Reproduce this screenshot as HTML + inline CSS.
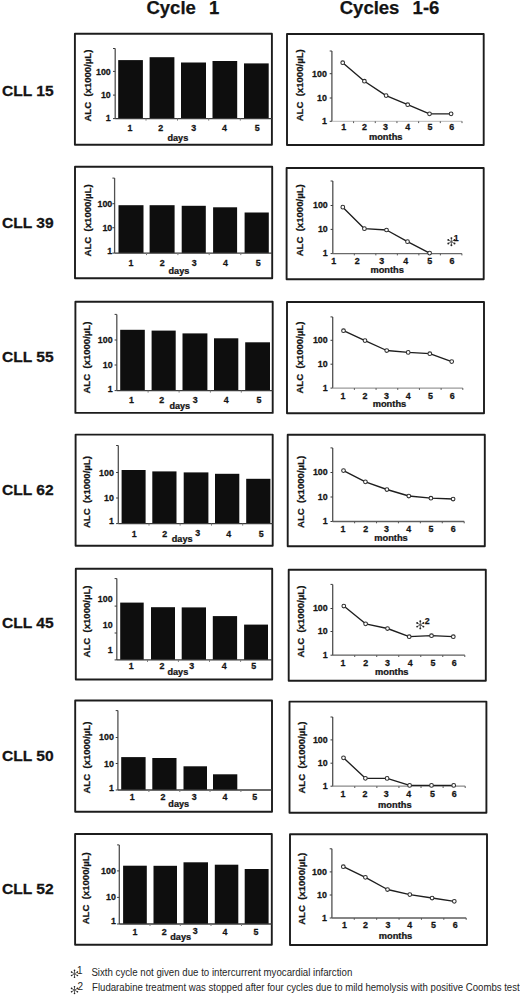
<!DOCTYPE html>
<html><head><meta charset="utf-8"><title>ALC cycles</title>
<style>
html,body{margin:0;padding:0;background:#fff;}
body{width:520px;height:995px;overflow:hidden;}
svg{display:block;font-family:"Liberation Sans", sans-serif;}
text{stroke:#141414;stroke-width:0.25px;}
text.fn{stroke:none;}
</style></head>
<body>
<svg width="520" height="995" viewBox="0 0 520 995">
<rect x="0" y="0" width="520" height="995" fill="#fff"/>
<text x="146.45" y="14.0" font-size="18.5" font-weight="bold" fill="#141414">Cycle</text>
<text x="208.9" y="14.0" font-size="18.5" font-weight="bold" fill="#141414">1</text>
<text x="339.75" y="14.0" font-size="18.5" font-weight="bold" fill="#141414">Cycles</text>
<text x="412.6" y="14.0" font-size="18.5" font-weight="bold" fill="#141414">1-6</text>
<text transform="translate(1.9,96.30) scale(1.054,1)" font-size="14.8" font-weight="bold" fill="#141414">CLL 15</text>
<text transform="translate(1.9,228.30) scale(1.054,1)" font-size="14.8" font-weight="bold" fill="#141414">CLL 39</text>
<text transform="translate(1.9,361.70) scale(1.054,1)" font-size="14.8" font-weight="bold" fill="#141414">CLL 55</text>
<text transform="translate(1.9,494.90) scale(1.054,1)" font-size="14.8" font-weight="bold" fill="#141414">CLL 62</text>
<text transform="translate(1.9,627.60) scale(1.054,1)" font-size="14.8" font-weight="bold" fill="#141414">CLL 45</text>
<text transform="translate(1.9,760.90) scale(1.054,1)" font-size="14.8" font-weight="bold" fill="#141414">CLL 50</text>
<text transform="translate(1.9,894.00) scale(1.054,1)" font-size="14.8" font-weight="bold" fill="#141414">CLL 52</text>
<rect x="74.90" y="33.70" width="197.00" height="111.10" fill="none" stroke="#1c1c1c" stroke-width="1.9" stroke-linejoin="round"/>
<rect x="118.20" y="60.10" width="24.70" height="58.50" fill="#0e0e0e"/>
<rect x="149.60" y="57.20" width="24.80" height="61.40" fill="#0e0e0e"/>
<rect x="181.00" y="62.50" width="25.00" height="56.10" fill="#0e0e0e"/>
<rect x="212.50" y="61.00" width="24.70" height="57.60" fill="#0e0e0e"/>
<rect x="244.00" y="63.40" width="24.70" height="55.20" fill="#0e0e0e"/>
<line x1="115.20" y1="48.50" x2="115.20" y2="118.60" stroke="#505050" stroke-width="1.3"/>
<line x1="113.00" y1="48.50" x2="115.20" y2="48.50" stroke="#3a3a3a" stroke-width="1"/>
<line x1="113.00" y1="71.40" x2="115.20" y2="71.40" stroke="#3a3a3a" stroke-width="1"/>
<line x1="113.00" y1="95.10" x2="115.20" y2="95.10" stroke="#3a3a3a" stroke-width="1"/>
<line x1="113.00" y1="118.60" x2="115.20" y2="118.60" stroke="#3a3a3a" stroke-width="1"/>
<line x1="115.20" y1="118.60" x2="271.90" y2="118.60" stroke="#3a3a3a" stroke-width="1.4"/>
<line x1="146.00" y1="118.60" x2="146.00" y2="120.60" stroke="#777" stroke-width="1"/>
<line x1="177.50" y1="118.60" x2="177.50" y2="120.60" stroke="#777" stroke-width="1"/>
<line x1="208.70" y1="118.60" x2="208.70" y2="120.60" stroke="#777" stroke-width="1"/>
<line x1="240.30" y1="118.60" x2="240.30" y2="120.60" stroke="#777" stroke-width="1"/>
<text transform="translate(110.80,74.71) scale(1.07,1)" font-size="8.3" text-anchor="end" font-weight="bold" fill="#141414" >100</text>
<text transform="translate(110.80,97.76) scale(1.07,1)" font-size="8.3" text-anchor="end" font-weight="bold" fill="#141414" >10</text>
<text transform="translate(110.80,121.16) scale(1.07,1)" font-size="8.3" text-anchor="end" font-weight="bold" fill="#141414" >1</text>
<text transform="translate(129.90,131.46) scale(1.07,1)" font-size="8.3" text-anchor="middle" font-weight="bold" fill="#141414" >1</text>
<text transform="translate(160.60,131.46) scale(1.07,1)" font-size="8.3" text-anchor="middle" font-weight="bold" fill="#141414" >2</text>
<text transform="translate(193.70,131.46) scale(1.07,1)" font-size="8.3" text-anchor="middle" font-weight="bold" fill="#141414" >3</text>
<text transform="translate(224.40,131.46) scale(1.07,1)" font-size="8.3" text-anchor="middle" font-weight="bold" fill="#141414" >4</text>
<text transform="translate(257.10,131.46) scale(1.07,1)" font-size="8.3" text-anchor="middle" font-weight="bold" fill="#141414" >5</text>
<text transform="translate(177.85,140.50) scale(1.083,1)" font-size="8.4" text-anchor="middle" font-weight="bold" fill="#141414" >days</text>
<text transform="translate(90.60,85.60) rotate(-90) scale(1.088,1)" x="0" y="0" font-size="8.8" text-anchor="middle" font-weight="bold" fill="#141414" xml:space="preserve">ALC  (x1000/µL)</text>
<rect x="75.00" y="166.80" width="197.20" height="111.50" fill="none" stroke="#1c1c1c" stroke-width="1.9" stroke-linejoin="round"/>
<rect x="118.50" y="205.20" width="25.00" height="47.90" fill="#0e0e0e"/>
<rect x="149.60" y="205.20" width="25.00" height="47.90" fill="#0e0e0e"/>
<rect x="181.70" y="205.80" width="24.10" height="47.30" fill="#0e0e0e"/>
<rect x="213.10" y="207.30" width="24.00" height="45.80" fill="#0e0e0e"/>
<rect x="244.60" y="212.50" width="24.20" height="40.60" fill="#0e0e0e"/>
<line x1="114.60" y1="178.10" x2="114.60" y2="253.10" stroke="#505050" stroke-width="1.3"/>
<line x1="112.40" y1="178.10" x2="114.60" y2="178.10" stroke="#3a3a3a" stroke-width="1"/>
<line x1="112.40" y1="203.70" x2="114.60" y2="203.70" stroke="#3a3a3a" stroke-width="1"/>
<line x1="112.40" y1="227.70" x2="114.60" y2="227.70" stroke="#3a3a3a" stroke-width="1"/>
<line x1="112.40" y1="253.10" x2="114.60" y2="253.10" stroke="#3a3a3a" stroke-width="1"/>
<line x1="114.60" y1="253.10" x2="272.20" y2="253.10" stroke="#3a3a3a" stroke-width="1.4"/>
<line x1="146.50" y1="253.10" x2="146.50" y2="255.10" stroke="#777" stroke-width="1"/>
<line x1="177.90" y1="253.10" x2="177.90" y2="255.10" stroke="#777" stroke-width="1"/>
<line x1="209.20" y1="253.10" x2="209.20" y2="255.10" stroke="#777" stroke-width="1"/>
<line x1="240.80" y1="253.10" x2="240.80" y2="255.10" stroke="#777" stroke-width="1"/>
<text transform="translate(112.30,206.51) scale(1.07,1)" font-size="8.3" text-anchor="end" font-weight="bold" fill="#141414" >100</text>
<text transform="translate(112.30,231.16) scale(1.07,1)" font-size="8.3" text-anchor="end" font-weight="bold" fill="#141414" >10</text>
<text transform="translate(112.30,254.46) scale(1.07,1)" font-size="8.3" text-anchor="end" font-weight="bold" fill="#141414" >1</text>
<text transform="translate(131.00,265.66) scale(1.07,1)" font-size="8.3" text-anchor="middle" font-weight="bold" fill="#141414" >1</text>
<text transform="translate(162.30,265.66) scale(1.07,1)" font-size="8.3" text-anchor="middle" font-weight="bold" fill="#141414" >2</text>
<text transform="translate(194.20,265.66) scale(1.07,1)" font-size="8.3" text-anchor="middle" font-weight="bold" fill="#141414" >3</text>
<text transform="translate(225.40,265.66) scale(1.07,1)" font-size="8.3" text-anchor="middle" font-weight="bold" fill="#141414" >4</text>
<text transform="translate(258.10,265.66) scale(1.07,1)" font-size="8.3" text-anchor="middle" font-weight="bold" fill="#141414" >5</text>
<text transform="translate(178.90,273.50) scale(1.083,1)" font-size="8.4" text-anchor="middle" font-weight="bold" fill="#141414" >days</text>
<text transform="translate(90.60,220.40) rotate(-90) scale(1.088,1)" x="0" y="0" font-size="8.8" text-anchor="middle" font-weight="bold" fill="#141414" xml:space="preserve">ALC  (x1000/µL)</text>
<rect x="75.40" y="301.70" width="197.30" height="111.20" fill="none" stroke="#1c1c1c" stroke-width="1.9" stroke-linejoin="round"/>
<rect x="120.20" y="329.80" width="24.60" height="60.80" fill="#0e0e0e"/>
<rect x="151.60" y="330.60" width="24.10" height="60.00" fill="#0e0e0e"/>
<rect x="182.50" y="333.40" width="24.90" height="57.20" fill="#0e0e0e"/>
<rect x="214.00" y="338.30" width="24.30" height="52.30" fill="#0e0e0e"/>
<rect x="245.20" y="342.30" width="24.80" height="48.30" fill="#0e0e0e"/>
<line x1="116.80" y1="314.40" x2="116.80" y2="390.60" stroke="#505050" stroke-width="1.3"/>
<line x1="114.60" y1="314.40" x2="116.80" y2="314.40" stroke="#3a3a3a" stroke-width="1"/>
<line x1="114.60" y1="340.00" x2="116.80" y2="340.00" stroke="#3a3a3a" stroke-width="1"/>
<line x1="114.60" y1="365.00" x2="116.80" y2="365.00" stroke="#3a3a3a" stroke-width="1"/>
<line x1="114.60" y1="390.60" x2="116.80" y2="390.60" stroke="#3a3a3a" stroke-width="1"/>
<line x1="116.80" y1="390.60" x2="272.70" y2="390.60" stroke="#3a3a3a" stroke-width="1.4"/>
<line x1="148.10" y1="390.60" x2="148.10" y2="392.60" stroke="#777" stroke-width="1"/>
<line x1="179.10" y1="390.60" x2="179.10" y2="392.60" stroke="#777" stroke-width="1"/>
<line x1="210.40" y1="390.60" x2="210.40" y2="392.60" stroke="#777" stroke-width="1"/>
<line x1="241.30" y1="390.60" x2="241.30" y2="392.60" stroke="#777" stroke-width="1"/>
<text transform="translate(112.60,343.31) scale(1.07,1)" font-size="8.3" text-anchor="end" font-weight="bold" fill="#141414" >100</text>
<text transform="translate(112.60,367.76) scale(1.07,1)" font-size="8.3" text-anchor="end" font-weight="bold" fill="#141414" >10</text>
<text transform="translate(112.60,392.16) scale(1.07,1)" font-size="8.3" text-anchor="end" font-weight="bold" fill="#141414" >1</text>
<text transform="translate(131.40,403.16) scale(1.07,1)" font-size="8.3" text-anchor="middle" font-weight="bold" fill="#141414" >1</text>
<text transform="translate(161.60,403.16) scale(1.07,1)" font-size="8.3" text-anchor="middle" font-weight="bold" fill="#141414" >2</text>
<text transform="translate(195.30,403.06) scale(1.07,1)" font-size="8.3" text-anchor="middle" font-weight="bold" fill="#141414" >3</text>
<text transform="translate(226.20,403.16) scale(1.07,1)" font-size="8.3" text-anchor="middle" font-weight="bold" fill="#141414" >4</text>
<text transform="translate(258.90,403.16) scale(1.07,1)" font-size="8.3" text-anchor="middle" font-weight="bold" fill="#141414" >5</text>
<text transform="translate(179.75,408.90) scale(1.083,1)" font-size="8.4" text-anchor="middle" font-weight="bold" fill="#141414" >days</text>
<text transform="translate(89.90,357.60) rotate(-90) scale(1.088,1)" x="0" y="0" font-size="8.8" text-anchor="middle" font-weight="bold" fill="#141414" xml:space="preserve">ALC  (x1000/µL)</text>
<rect x="75.60" y="434.60" width="197.10" height="111.10" fill="none" stroke="#1c1c1c" stroke-width="1.9" stroke-linejoin="round"/>
<rect x="121.60" y="470.00" width="24.00" height="53.60" fill="#0e0e0e"/>
<rect x="152.30" y="471.40" width="24.20" height="52.20" fill="#0e0e0e"/>
<rect x="183.70" y="472.40" width="24.70" height="51.20" fill="#0e0e0e"/>
<rect x="215.00" y="473.80" width="24.30" height="49.80" fill="#0e0e0e"/>
<rect x="246.20" y="478.80" width="24.20" height="44.80" fill="#0e0e0e"/>
<line x1="118.30" y1="445.50" x2="118.30" y2="523.60" stroke="#505050" stroke-width="1.3"/>
<line x1="116.10" y1="445.50" x2="118.30" y2="445.50" stroke="#3a3a3a" stroke-width="1"/>
<line x1="116.10" y1="472.50" x2="118.30" y2="472.50" stroke="#3a3a3a" stroke-width="1"/>
<line x1="116.10" y1="498.00" x2="118.30" y2="498.00" stroke="#3a3a3a" stroke-width="1"/>
<line x1="116.10" y1="523.60" x2="118.30" y2="523.60" stroke="#3a3a3a" stroke-width="1"/>
<line x1="118.30" y1="523.60" x2="272.70" y2="523.60" stroke="#3a3a3a" stroke-width="1.4"/>
<line x1="149.00" y1="523.60" x2="149.00" y2="525.60" stroke="#777" stroke-width="1"/>
<line x1="180.10" y1="523.60" x2="180.10" y2="525.60" stroke="#777" stroke-width="1"/>
<line x1="211.50" y1="523.60" x2="211.50" y2="525.60" stroke="#777" stroke-width="1"/>
<line x1="242.70" y1="523.60" x2="242.70" y2="525.60" stroke="#777" stroke-width="1"/>
<text transform="translate(113.90,476.01) scale(1.07,1)" font-size="8.3" text-anchor="end" font-weight="bold" fill="#141414" >100</text>
<text transform="translate(113.90,500.66) scale(1.07,1)" font-size="8.3" text-anchor="end" font-weight="bold" fill="#141414" >10</text>
<text transform="translate(113.90,523.86) scale(1.07,1)" font-size="8.3" text-anchor="end" font-weight="bold" fill="#141414" >1</text>
<text transform="translate(134.10,536.76) scale(1.07,1)" font-size="8.3" text-anchor="middle" font-weight="bold" fill="#141414" >1</text>
<text transform="translate(164.80,536.76) scale(1.07,1)" font-size="8.3" text-anchor="middle" font-weight="bold" fill="#141414" >2</text>
<text transform="translate(197.70,536.06) scale(1.07,1)" font-size="8.3" text-anchor="middle" font-weight="bold" fill="#141414" >3</text>
<text transform="translate(228.60,536.76) scale(1.07,1)" font-size="8.3" text-anchor="middle" font-weight="bold" fill="#141414" >4</text>
<text transform="translate(261.30,536.76) scale(1.07,1)" font-size="8.3" text-anchor="middle" font-weight="bold" fill="#141414" >5</text>
<text transform="translate(182.15,542.20) scale(1.083,1)" font-size="8.4" text-anchor="middle" font-weight="bold" fill="#141414" >days</text>
<text transform="translate(89.95,492.10) rotate(-90) scale(1.088,1)" x="0" y="0" font-size="8.8" text-anchor="middle" font-weight="bold" fill="#141414" xml:space="preserve">ALC  (x1000/µL)</text>
<rect x="75.80" y="568.70" width="196.40" height="110.80" fill="none" stroke="#1c1c1c" stroke-width="1.9" stroke-linejoin="round"/>
<rect x="120.20" y="602.60" width="23.50" height="57.30" fill="#0e0e0e"/>
<rect x="151.00" y="607.20" width="24.00" height="52.70" fill="#0e0e0e"/>
<rect x="181.70" y="607.40" width="24.30" height="52.50" fill="#0e0e0e"/>
<rect x="212.80" y="616.10" width="24.30" height="43.80" fill="#0e0e0e"/>
<rect x="244.10" y="624.60" width="23.90" height="35.30" fill="#0e0e0e"/>
<line x1="116.80" y1="578.60" x2="116.80" y2="659.90" stroke="#505050" stroke-width="1.3"/>
<line x1="114.60" y1="578.60" x2="116.80" y2="578.60" stroke="#3a3a3a" stroke-width="1"/>
<line x1="114.60" y1="606.10" x2="116.80" y2="606.10" stroke="#3a3a3a" stroke-width="1"/>
<line x1="114.60" y1="633.00" x2="116.80" y2="633.00" stroke="#3a3a3a" stroke-width="1"/>
<line x1="114.60" y1="659.90" x2="116.80" y2="659.90" stroke="#3a3a3a" stroke-width="1"/>
<line x1="116.80" y1="659.90" x2="272.20" y2="659.90" stroke="#3a3a3a" stroke-width="1.4"/>
<line x1="147.50" y1="659.90" x2="147.50" y2="661.90" stroke="#777" stroke-width="1"/>
<line x1="178.40" y1="659.90" x2="178.40" y2="661.90" stroke="#777" stroke-width="1"/>
<line x1="209.50" y1="659.90" x2="209.50" y2="661.90" stroke="#777" stroke-width="1"/>
<line x1="240.60" y1="659.90" x2="240.60" y2="661.90" stroke="#777" stroke-width="1"/>
<text transform="translate(112.60,601.96) scale(1.07,1)" font-size="8.3" text-anchor="end" font-weight="bold" fill="#141414" >100</text>
<text transform="translate(112.60,628.36) scale(1.07,1)" font-size="8.3" text-anchor="end" font-weight="bold" fill="#141414" >10</text>
<text transform="translate(112.60,652.56) scale(1.07,1)" font-size="8.3" text-anchor="end" font-weight="bold" fill="#141414" >1</text>
<text transform="translate(131.20,669.16) scale(1.07,1)" font-size="8.3" text-anchor="middle" font-weight="bold" fill="#141414" >1</text>
<text transform="translate(162.00,669.16) scale(1.07,1)" font-size="8.3" text-anchor="middle" font-weight="bold" fill="#141414" >2</text>
<text transform="translate(191.80,669.26) scale(1.07,1)" font-size="8.3" text-anchor="middle" font-weight="bold" fill="#141414" >3</text>
<text transform="translate(224.10,669.16) scale(1.07,1)" font-size="8.3" text-anchor="middle" font-weight="bold" fill="#141414" >4</text>
<text transform="translate(253.80,669.16) scale(1.07,1)" font-size="8.3" text-anchor="middle" font-weight="bold" fill="#141414" >5</text>
<text transform="translate(177.85,674.90) scale(1.083,1)" font-size="8.4" text-anchor="middle" font-weight="bold" fill="#141414" >days</text>
<text transform="translate(89.90,621.50) rotate(-90) scale(1.088,1)" x="0" y="0" font-size="8.8" text-anchor="middle" font-weight="bold" fill="#141414" xml:space="preserve">ALC  (x1000/µL)</text>
<rect x="75.20" y="700.50" width="196.80" height="111.20" fill="none" stroke="#1c1c1c" stroke-width="1.9" stroke-linejoin="round"/>
<rect x="121.20" y="757.10" width="24.40" height="32.90" fill="#0e0e0e"/>
<rect x="152.30" y="758.00" width="24.20" height="32.00" fill="#0e0e0e"/>
<rect x="183.50" y="766.30" width="23.50" height="23.70" fill="#0e0e0e"/>
<rect x="213.00" y="774.30" width="24.30" height="15.70" fill="#0e0e0e"/>
<line x1="117.90" y1="710.60" x2="117.90" y2="790.00" stroke="#505050" stroke-width="1.3"/>
<line x1="115.70" y1="710.60" x2="117.90" y2="710.60" stroke="#3a3a3a" stroke-width="1"/>
<line x1="115.70" y1="737.50" x2="117.90" y2="737.50" stroke="#3a3a3a" stroke-width="1"/>
<line x1="115.70" y1="763.50" x2="117.90" y2="763.50" stroke="#3a3a3a" stroke-width="1"/>
<line x1="115.70" y1="790.00" x2="117.90" y2="790.00" stroke="#3a3a3a" stroke-width="1"/>
<line x1="117.90" y1="790.00" x2="272.00" y2="790.00" stroke="#3a3a3a" stroke-width="1.4"/>
<line x1="148.90" y1="790.00" x2="148.90" y2="792.00" stroke="#777" stroke-width="1"/>
<line x1="179.80" y1="790.00" x2="179.80" y2="792.00" stroke="#777" stroke-width="1"/>
<line x1="210.00" y1="790.00" x2="210.00" y2="792.00" stroke="#777" stroke-width="1"/>
<line x1="240.90" y1="790.00" x2="240.90" y2="792.00" stroke="#777" stroke-width="1"/>
<text transform="translate(113.90,740.36) scale(1.07,1)" font-size="8.3" text-anchor="end" font-weight="bold" fill="#141414" >100</text>
<text transform="translate(113.90,766.86) scale(1.07,1)" font-size="8.3" text-anchor="end" font-weight="bold" fill="#141414" >10</text>
<text transform="translate(113.90,791.26) scale(1.07,1)" font-size="8.3" text-anchor="end" font-weight="bold" fill="#141414" >1</text>
<text transform="translate(132.20,800.16) scale(1.07,1)" font-size="8.3" text-anchor="middle" font-weight="bold" fill="#141414" >1</text>
<text transform="translate(162.90,800.16) scale(1.07,1)" font-size="8.3" text-anchor="middle" font-weight="bold" fill="#141414" >2</text>
<text transform="translate(194.20,800.46) scale(1.07,1)" font-size="8.3" text-anchor="middle" font-weight="bold" fill="#141414" >3</text>
<text transform="translate(225.00,800.16) scale(1.07,1)" font-size="8.3" text-anchor="middle" font-weight="bold" fill="#141414" >4</text>
<text transform="translate(254.80,800.16) scale(1.07,1)" font-size="8.3" text-anchor="middle" font-weight="bold" fill="#141414" >5</text>
<text transform="translate(178.70,807.20) scale(1.083,1)" font-size="8.4" text-anchor="middle" font-weight="bold" fill="#141414" >days</text>
<text transform="translate(89.90,757.60) rotate(-90) scale(1.088,1)" x="0" y="0" font-size="8.8" text-anchor="middle" font-weight="bold" fill="#141414" xml:space="preserve">ALC  (x1000/µL)</text>
<rect x="75.10" y="834.00" width="196.70" height="110.70" fill="none" stroke="#1c1c1c" stroke-width="1.9" stroke-linejoin="round"/>
<rect x="123.10" y="865.70" width="23.70" height="58.30" fill="#0e0e0e"/>
<rect x="153.50" y="865.80" width="23.50" height="58.20" fill="#0e0e0e"/>
<rect x="183.50" y="862.30" width="24.50" height="61.70" fill="#0e0e0e"/>
<rect x="214.80" y="864.70" width="23.50" height="59.30" fill="#0e0e0e"/>
<rect x="244.70" y="869.00" width="23.90" height="55.00" fill="#0e0e0e"/>
<line x1="119.30" y1="844.90" x2="119.30" y2="924.00" stroke="#505050" stroke-width="1.3"/>
<line x1="117.10" y1="844.90" x2="119.30" y2="844.90" stroke="#3a3a3a" stroke-width="1"/>
<line x1="117.10" y1="870.90" x2="119.30" y2="870.90" stroke="#3a3a3a" stroke-width="1"/>
<line x1="117.10" y1="897.40" x2="119.30" y2="897.40" stroke="#3a3a3a" stroke-width="1"/>
<line x1="117.10" y1="924.00" x2="119.30" y2="924.00" stroke="#3a3a3a" stroke-width="1"/>
<line x1="119.30" y1="924.00" x2="271.80" y2="924.00" stroke="#3a3a3a" stroke-width="1.4"/>
<line x1="150.00" y1="924.00" x2="150.00" y2="926.00" stroke="#777" stroke-width="1"/>
<line x1="180.30" y1="924.00" x2="180.30" y2="926.00" stroke="#777" stroke-width="1"/>
<line x1="211.00" y1="924.00" x2="211.00" y2="926.00" stroke="#777" stroke-width="1"/>
<line x1="241.50" y1="924.00" x2="241.50" y2="926.00" stroke="#777" stroke-width="1"/>
<text transform="translate(115.90,873.56) scale(1.07,1)" font-size="8.3" text-anchor="end" font-weight="bold" fill="#141414" >100</text>
<text transform="translate(115.90,900.16) scale(1.07,1)" font-size="8.3" text-anchor="end" font-weight="bold" fill="#141414" >10</text>
<text transform="translate(115.90,924.26) scale(1.07,1)" font-size="8.3" text-anchor="end" font-weight="bold" fill="#141414" >1</text>
<text transform="translate(135.00,934.56) scale(1.07,1)" font-size="8.3" text-anchor="middle" font-weight="bold" fill="#141414" >1</text>
<text transform="translate(164.10,934.56) scale(1.07,1)" font-size="8.3" text-anchor="middle" font-weight="bold" fill="#141414" >2</text>
<text transform="translate(195.30,934.46) scale(1.07,1)" font-size="8.3" text-anchor="middle" font-weight="bold" fill="#141414" >3</text>
<text transform="translate(225.00,934.56) scale(1.07,1)" font-size="8.3" text-anchor="middle" font-weight="bold" fill="#141414" >4</text>
<text transform="translate(255.90,934.56) scale(1.07,1)" font-size="8.3" text-anchor="middle" font-weight="bold" fill="#141414" >5</text>
<text transform="translate(180.65,940.20) scale(1.083,1)" font-size="8.4" text-anchor="middle" font-weight="bold" fill="#141414" >days</text>
<text transform="translate(88.85,888.30) rotate(-90) scale(1.088,1)" x="0" y="0" font-size="8.8" text-anchor="middle" font-weight="bold" fill="#141414" xml:space="preserve">ALC  (x1000/µL)</text>
<rect x="287.00" y="34.00" width="196.70" height="111.00" fill="none" stroke="#1c1c1c" stroke-width="1.9" stroke-linejoin="round"/>
<line x1="331.90" y1="51.00" x2="331.90" y2="121.30" stroke="#505050" stroke-width="1.3"/>
<line x1="329.70" y1="51.00" x2="331.90" y2="51.00" stroke="#3a3a3a" stroke-width="1"/>
<line x1="329.70" y1="73.70" x2="331.90" y2="73.70" stroke="#3a3a3a" stroke-width="1"/>
<line x1="329.70" y1="98.00" x2="331.90" y2="98.00" stroke="#3a3a3a" stroke-width="1"/>
<line x1="329.70" y1="121.30" x2="331.90" y2="121.30" stroke="#3a3a3a" stroke-width="1"/>
<line x1="331.90" y1="121.30" x2="462.00" y2="121.30" stroke="#b0b0b0" stroke-width="0.9"/>
<line x1="353.58" y1="121.30" x2="353.58" y2="123.10" stroke="#555" stroke-width="1"/>
<line x1="375.27" y1="121.30" x2="375.27" y2="123.10" stroke="#555" stroke-width="1"/>
<line x1="396.95" y1="121.30" x2="396.95" y2="123.10" stroke="#555" stroke-width="1"/>
<line x1="418.63" y1="121.30" x2="418.63" y2="123.10" stroke="#555" stroke-width="1"/>
<line x1="440.32" y1="121.30" x2="440.32" y2="123.10" stroke="#555" stroke-width="1"/>
<line x1="462.00" y1="121.30" x2="462.00" y2="123.10" stroke="#555" stroke-width="1"/>
<text transform="translate(326.90,76.56) scale(1.07,1)" font-size="8.3" text-anchor="end" font-weight="bold" fill="#141414" >100</text>
<text transform="translate(326.90,100.86) scale(1.07,1)" font-size="8.3" text-anchor="end" font-weight="bold" fill="#141414" >10</text>
<text transform="translate(326.90,124.16) scale(1.07,1)" font-size="8.3" text-anchor="end" font-weight="bold" fill="#141414" >1</text>
<polyline points="342.70,62.70 364.40,81.20 386.10,95.60 407.70,104.70 429.50,113.80 451.10,113.80" fill="none" stroke="#1e1e1e" stroke-width="1.35" stroke-linejoin="round"/>
<circle cx="342.70" cy="62.70" r="1.85" fill="#fff" stroke="#2e2e2e" stroke-width="1.05"/>
<circle cx="364.40" cy="81.20" r="1.85" fill="#fff" stroke="#2e2e2e" stroke-width="1.05"/>
<circle cx="386.10" cy="95.60" r="1.85" fill="#fff" stroke="#2e2e2e" stroke-width="1.05"/>
<circle cx="407.70" cy="104.70" r="1.85" fill="#fff" stroke="#2e2e2e" stroke-width="1.05"/>
<circle cx="429.50" cy="113.80" r="1.85" fill="#fff" stroke="#2e2e2e" stroke-width="1.05"/>
<circle cx="451.10" cy="113.80" r="1.85" fill="#fff" stroke="#2e2e2e" stroke-width="1.05"/>
<text transform="translate(343.80,130.26) scale(1.07,1)" font-size="8.3" text-anchor="middle" font-weight="bold" fill="#141414" >1</text>
<text transform="translate(364.50,130.26) scale(1.07,1)" font-size="8.3" text-anchor="middle" font-weight="bold" fill="#141414" >2</text>
<text transform="translate(385.50,130.26) scale(1.07,1)" font-size="8.3" text-anchor="middle" font-weight="bold" fill="#141414" >3</text>
<text transform="translate(407.70,130.26) scale(1.07,1)" font-size="8.3" text-anchor="middle" font-weight="bold" fill="#141414" >4</text>
<text transform="translate(430.00,130.26) scale(1.07,1)" font-size="8.3" text-anchor="middle" font-weight="bold" fill="#141414" >5</text>
<text transform="translate(451.70,130.26) scale(1.07,1)" font-size="8.3" text-anchor="middle" font-weight="bold" fill="#141414" >6</text>
<text transform="translate(385.70,140.20) scale(1.094,1)" font-size="8.5" text-anchor="middle" font-weight="bold" fill="#141414" >months</text>
<text transform="translate(302.90,85.30) rotate(-90) scale(1.088,1)" x="0" y="0" font-size="8.8" text-anchor="middle" font-weight="bold" fill="#141414" xml:space="preserve">ALC  (x1000/µL)</text>
<rect x="286.60" y="168.00" width="197.10" height="111.30" fill="none" stroke="#1c1c1c" stroke-width="1.9" stroke-linejoin="round"/>
<line x1="332.80" y1="181.00" x2="332.80" y2="253.60" stroke="#505050" stroke-width="1.3"/>
<line x1="330.60" y1="181.00" x2="332.80" y2="181.00" stroke="#3a3a3a" stroke-width="1"/>
<line x1="330.60" y1="205.50" x2="332.80" y2="205.50" stroke="#3a3a3a" stroke-width="1"/>
<line x1="330.60" y1="229.40" x2="332.80" y2="229.40" stroke="#3a3a3a" stroke-width="1"/>
<line x1="330.60" y1="253.60" x2="332.80" y2="253.60" stroke="#3a3a3a" stroke-width="1"/>
<line x1="332.80" y1="253.60" x2="461.90" y2="253.60" stroke="#6a6a6a" stroke-width="1.3"/>
<line x1="354.32" y1="253.60" x2="354.32" y2="255.40" stroke="#555" stroke-width="1"/>
<line x1="375.83" y1="253.60" x2="375.83" y2="255.40" stroke="#555" stroke-width="1"/>
<line x1="397.35" y1="253.60" x2="397.35" y2="255.40" stroke="#555" stroke-width="1"/>
<line x1="418.87" y1="253.60" x2="418.87" y2="255.40" stroke="#555" stroke-width="1"/>
<line x1="440.38" y1="253.60" x2="440.38" y2="255.40" stroke="#555" stroke-width="1"/>
<line x1="461.90" y1="253.60" x2="461.90" y2="255.40" stroke="#555" stroke-width="1"/>
<text transform="translate(327.80,208.36) scale(1.07,1)" font-size="8.3" text-anchor="end" font-weight="bold" fill="#141414" >100</text>
<text transform="translate(327.80,232.26) scale(1.07,1)" font-size="8.3" text-anchor="end" font-weight="bold" fill="#141414" >10</text>
<text transform="translate(327.80,256.46) scale(1.07,1)" font-size="8.3" text-anchor="end" font-weight="bold" fill="#141414" >1</text>
<polyline points="342.80,207.20 364.40,228.70 386.50,230.00 407.50,241.70 429.60,253.10" fill="none" stroke="#1e1e1e" stroke-width="1.35" stroke-linejoin="round"/>
<circle cx="342.80" cy="207.20" r="1.85" fill="#fff" stroke="#2e2e2e" stroke-width="1.05"/>
<circle cx="364.40" cy="228.70" r="1.85" fill="#fff" stroke="#2e2e2e" stroke-width="1.05"/>
<circle cx="386.50" cy="230.00" r="1.85" fill="#fff" stroke="#2e2e2e" stroke-width="1.05"/>
<circle cx="407.50" cy="241.70" r="1.85" fill="#fff" stroke="#2e2e2e" stroke-width="1.05"/>
<circle cx="429.60" cy="253.10" r="1.85" fill="#fff" stroke="#2e2e2e" stroke-width="1.05"/>
<text transform="translate(333.60,263.86) scale(1.07,1)" font-size="8.3" text-anchor="middle" font-weight="bold" fill="#141414" >1</text>
<text transform="translate(357.30,263.86) scale(1.07,1)" font-size="8.3" text-anchor="middle" font-weight="bold" fill="#141414" >2</text>
<text transform="translate(381.60,263.86) scale(1.07,1)" font-size="8.3" text-anchor="middle" font-weight="bold" fill="#141414" >3</text>
<text transform="translate(405.60,263.86) scale(1.07,1)" font-size="8.3" text-anchor="middle" font-weight="bold" fill="#141414" >4</text>
<text transform="translate(429.60,263.86) scale(1.07,1)" font-size="8.3" text-anchor="middle" font-weight="bold" fill="#141414" >5</text>
<text transform="translate(452.00,263.86) scale(1.07,1)" font-size="8.3" text-anchor="middle" font-weight="bold" fill="#141414" >6</text>
<text transform="translate(387.15,273.20) scale(1.094,1)" font-size="8.5" text-anchor="middle" font-weight="bold" fill="#141414" >months</text>
<text transform="translate(303.40,220.30) rotate(-90) scale(1.088,1)" x="0" y="0" font-size="8.8" text-anchor="middle" font-weight="bold" fill="#141414" xml:space="preserve">ALC  (x1000/µL)</text>
<line x1="451.40" y1="241.70" x2="451.40" y2="238.10" stroke="#5a5a5a" stroke-width="0.9" stroke-linecap="round"/><circle cx="451.40" cy="238.10" r="0.95" fill="#262626"/><line x1="451.40" y1="241.70" x2="448.28" y2="239.90" stroke="#5a5a5a" stroke-width="0.9" stroke-linecap="round"/><circle cx="448.28" cy="239.90" r="0.95" fill="#262626"/><line x1="451.40" y1="241.70" x2="448.28" y2="243.50" stroke="#5a5a5a" stroke-width="0.9" stroke-linecap="round"/><circle cx="448.28" cy="243.50" r="0.95" fill="#262626"/><line x1="451.40" y1="241.70" x2="451.40" y2="245.30" stroke="#5a5a5a" stroke-width="0.9" stroke-linecap="round"/><circle cx="451.40" cy="245.30" r="0.95" fill="#262626"/><line x1="451.40" y1="241.70" x2="454.52" y2="243.50" stroke="#5a5a5a" stroke-width="0.9" stroke-linecap="round"/><circle cx="454.52" cy="243.50" r="0.95" fill="#262626"/><line x1="451.40" y1="241.70" x2="454.52" y2="239.90" stroke="#5a5a5a" stroke-width="0.9" stroke-linecap="round"/><circle cx="454.52" cy="239.90" r="0.95" fill="#262626"/>
<text x="456.20" y="241.30" font-size="8.8" text-anchor="middle" font-weight="bold" fill="#141414" >1</text>
<rect x="287.00" y="302.00" width="197.00" height="111.30" fill="none" stroke="#1c1c1c" stroke-width="1.9" stroke-linejoin="round"/>
<line x1="332.70" y1="316.90" x2="332.70" y2="388.10" stroke="#505050" stroke-width="1.3"/>
<line x1="330.50" y1="316.90" x2="332.70" y2="316.90" stroke="#3a3a3a" stroke-width="1"/>
<line x1="330.50" y1="340.30" x2="332.70" y2="340.30" stroke="#3a3a3a" stroke-width="1"/>
<line x1="330.50" y1="364.20" x2="332.70" y2="364.20" stroke="#3a3a3a" stroke-width="1"/>
<line x1="330.50" y1="388.10" x2="332.70" y2="388.10" stroke="#3a3a3a" stroke-width="1"/>
<line x1="332.70" y1="388.10" x2="462.80" y2="388.10" stroke="#9a9a9a" stroke-width="1.1"/>
<line x1="354.38" y1="388.10" x2="354.38" y2="389.90" stroke="#555" stroke-width="1"/>
<line x1="376.07" y1="388.10" x2="376.07" y2="389.90" stroke="#555" stroke-width="1"/>
<line x1="397.75" y1="388.10" x2="397.75" y2="389.90" stroke="#555" stroke-width="1"/>
<line x1="419.43" y1="388.10" x2="419.43" y2="389.90" stroke="#555" stroke-width="1"/>
<line x1="441.12" y1="388.10" x2="441.12" y2="389.90" stroke="#555" stroke-width="1"/>
<line x1="462.80" y1="388.10" x2="462.80" y2="389.90" stroke="#555" stroke-width="1"/>
<text transform="translate(327.70,343.16) scale(1.07,1)" font-size="8.3" text-anchor="end" font-weight="bold" fill="#141414" >100</text>
<text transform="translate(327.70,367.06) scale(1.07,1)" font-size="8.3" text-anchor="end" font-weight="bold" fill="#141414" >10</text>
<text transform="translate(327.70,390.96) scale(1.07,1)" font-size="8.3" text-anchor="end" font-weight="bold" fill="#141414" >1</text>
<polyline points="343.50,330.70 365.00,340.60 386.70,350.50 408.20,352.40 429.80,353.70 451.70,361.60" fill="none" stroke="#1e1e1e" stroke-width="1.35" stroke-linejoin="round"/>
<circle cx="343.50" cy="330.70" r="1.85" fill="#fff" stroke="#2e2e2e" stroke-width="1.05"/>
<circle cx="365.00" cy="340.60" r="1.85" fill="#fff" stroke="#2e2e2e" stroke-width="1.05"/>
<circle cx="386.70" cy="350.50" r="1.85" fill="#fff" stroke="#2e2e2e" stroke-width="1.05"/>
<circle cx="408.20" cy="352.40" r="1.85" fill="#fff" stroke="#2e2e2e" stroke-width="1.05"/>
<circle cx="429.80" cy="353.70" r="1.85" fill="#fff" stroke="#2e2e2e" stroke-width="1.05"/>
<circle cx="451.70" cy="361.60" r="1.85" fill="#fff" stroke="#2e2e2e" stroke-width="1.05"/>
<text transform="translate(342.90,398.76) scale(1.07,1)" font-size="8.3" text-anchor="middle" font-weight="bold" fill="#141414" >1</text>
<text transform="translate(365.00,398.76) scale(1.07,1)" font-size="8.3" text-anchor="middle" font-weight="bold" fill="#141414" >2</text>
<text transform="translate(386.40,398.76) scale(1.07,1)" font-size="8.3" text-anchor="middle" font-weight="bold" fill="#141414" >3</text>
<text transform="translate(408.20,398.76) scale(1.07,1)" font-size="8.3" text-anchor="middle" font-weight="bold" fill="#141414" >4</text>
<text transform="translate(430.50,398.76) scale(1.07,1)" font-size="8.3" text-anchor="middle" font-weight="bold" fill="#141414" >5</text>
<text transform="translate(452.30,398.76) scale(1.07,1)" font-size="8.3" text-anchor="middle" font-weight="bold" fill="#141414" >6</text>
<text transform="translate(389.45,407.40) scale(1.094,1)" font-size="8.5" text-anchor="middle" font-weight="bold" fill="#141414" >months</text>
<text transform="translate(302.80,357.60) rotate(-90) scale(1.088,1)" x="0" y="0" font-size="8.8" text-anchor="middle" font-weight="bold" fill="#141414" xml:space="preserve">ALC  (x1000/µL)</text>
<rect x="287.70" y="434.70" width="197.10" height="111.50" fill="none" stroke="#1c1c1c" stroke-width="1.9" stroke-linejoin="round"/>
<line x1="332.70" y1="447.90" x2="332.70" y2="521.50" stroke="#505050" stroke-width="1.3"/>
<line x1="330.50" y1="447.90" x2="332.70" y2="447.90" stroke="#3a3a3a" stroke-width="1"/>
<line x1="330.50" y1="472.50" x2="332.70" y2="472.50" stroke="#3a3a3a" stroke-width="1"/>
<line x1="330.50" y1="497.00" x2="332.70" y2="497.00" stroke="#3a3a3a" stroke-width="1"/>
<line x1="330.50" y1="521.50" x2="332.70" y2="521.50" stroke="#3a3a3a" stroke-width="1"/>
<line x1="332.70" y1="521.50" x2="464.20" y2="521.50" stroke="#5e5e5e" stroke-width="1.3"/>
<line x1="354.62" y1="521.50" x2="354.62" y2="523.30" stroke="#555" stroke-width="1"/>
<line x1="376.53" y1="521.50" x2="376.53" y2="523.30" stroke="#555" stroke-width="1"/>
<line x1="398.45" y1="521.50" x2="398.45" y2="523.30" stroke="#555" stroke-width="1"/>
<line x1="420.37" y1="521.50" x2="420.37" y2="523.30" stroke="#555" stroke-width="1"/>
<line x1="442.28" y1="521.50" x2="442.28" y2="523.30" stroke="#555" stroke-width="1"/>
<line x1="464.20" y1="521.50" x2="464.20" y2="523.30" stroke="#555" stroke-width="1"/>
<text transform="translate(327.70,475.36) scale(1.07,1)" font-size="8.3" text-anchor="end" font-weight="bold" fill="#141414" >100</text>
<text transform="translate(327.70,499.86) scale(1.07,1)" font-size="8.3" text-anchor="end" font-weight="bold" fill="#141414" >10</text>
<text transform="translate(327.70,524.36) scale(1.07,1)" font-size="8.3" text-anchor="end" font-weight="bold" fill="#141414" >1</text>
<polyline points="343.50,470.60 365.40,481.80 386.90,489.50 408.80,496.00 430.90,498.20 453.10,499.00" fill="none" stroke="#1e1e1e" stroke-width="1.35" stroke-linejoin="round"/>
<circle cx="343.50" cy="470.60" r="1.85" fill="#fff" stroke="#2e2e2e" stroke-width="1.05"/>
<circle cx="365.40" cy="481.80" r="1.85" fill="#fff" stroke="#2e2e2e" stroke-width="1.05"/>
<circle cx="386.90" cy="489.50" r="1.85" fill="#fff" stroke="#2e2e2e" stroke-width="1.05"/>
<circle cx="408.80" cy="496.00" r="1.85" fill="#fff" stroke="#2e2e2e" stroke-width="1.05"/>
<circle cx="430.90" cy="498.20" r="1.85" fill="#fff" stroke="#2e2e2e" stroke-width="1.05"/>
<circle cx="453.10" cy="499.00" r="1.85" fill="#fff" stroke="#2e2e2e" stroke-width="1.05"/>
<text transform="translate(342.90,532.16) scale(1.07,1)" font-size="8.3" text-anchor="middle" font-weight="bold" fill="#141414" >1</text>
<text transform="translate(365.60,532.16) scale(1.07,1)" font-size="8.3" text-anchor="middle" font-weight="bold" fill="#141414" >2</text>
<text transform="translate(386.40,532.16) scale(1.07,1)" font-size="8.3" text-anchor="middle" font-weight="bold" fill="#141414" >3</text>
<text transform="translate(408.80,532.16) scale(1.07,1)" font-size="8.3" text-anchor="middle" font-weight="bold" fill="#141414" >4</text>
<text transform="translate(431.00,532.16) scale(1.07,1)" font-size="8.3" text-anchor="middle" font-weight="bold" fill="#141414" >5</text>
<text transform="translate(453.10,532.16) scale(1.07,1)" font-size="8.3" text-anchor="middle" font-weight="bold" fill="#141414" >6</text>
<text transform="translate(391.00,540.90) scale(1.094,1)" font-size="8.5" text-anchor="middle" font-weight="bold" fill="#141414" >months</text>
<text transform="translate(303.60,491.90) rotate(-90) scale(1.088,1)" x="0" y="0" font-size="8.8" text-anchor="middle" font-weight="bold" fill="#141414" xml:space="preserve">ALC  (x1000/µL)</text>
<rect x="288.70" y="569.70" width="197.10" height="111.00" fill="none" stroke="#1c1c1c" stroke-width="1.9" stroke-linejoin="round"/>
<line x1="332.70" y1="584.40" x2="332.70" y2="655.20" stroke="#505050" stroke-width="1.3"/>
<line x1="330.50" y1="584.40" x2="332.70" y2="584.40" stroke="#3a3a3a" stroke-width="1"/>
<line x1="330.50" y1="608.50" x2="332.70" y2="608.50" stroke="#3a3a3a" stroke-width="1"/>
<line x1="330.50" y1="631.50" x2="332.70" y2="631.50" stroke="#3a3a3a" stroke-width="1"/>
<line x1="330.50" y1="655.20" x2="332.70" y2="655.20" stroke="#3a3a3a" stroke-width="1"/>
<line x1="332.70" y1="655.20" x2="464.80" y2="655.20" stroke="#5e5e5e" stroke-width="1.3"/>
<line x1="354.72" y1="655.20" x2="354.72" y2="657.00" stroke="#555" stroke-width="1"/>
<line x1="376.73" y1="655.20" x2="376.73" y2="657.00" stroke="#555" stroke-width="1"/>
<line x1="398.75" y1="655.20" x2="398.75" y2="657.00" stroke="#555" stroke-width="1"/>
<line x1="420.77" y1="655.20" x2="420.77" y2="657.00" stroke="#555" stroke-width="1"/>
<line x1="442.78" y1="655.20" x2="442.78" y2="657.00" stroke="#555" stroke-width="1"/>
<line x1="464.80" y1="655.20" x2="464.80" y2="657.00" stroke="#555" stroke-width="1"/>
<text transform="translate(327.70,611.36) scale(1.07,1)" font-size="8.3" text-anchor="end" font-weight="bold" fill="#141414" >100</text>
<text transform="translate(327.70,634.36) scale(1.07,1)" font-size="8.3" text-anchor="end" font-weight="bold" fill="#141414" >10</text>
<text transform="translate(327.70,658.06) scale(1.07,1)" font-size="8.3" text-anchor="end" font-weight="bold" fill="#141414" >1</text>
<polyline points="343.80,606.00 365.60,623.80 387.50,628.50 409.20,636.70 431.50,635.70 453.30,636.70" fill="none" stroke="#1e1e1e" stroke-width="1.35" stroke-linejoin="round"/>
<circle cx="343.80" cy="606.00" r="1.85" fill="#fff" stroke="#2e2e2e" stroke-width="1.05"/>
<circle cx="365.60" cy="623.80" r="1.85" fill="#fff" stroke="#2e2e2e" stroke-width="1.05"/>
<circle cx="387.50" cy="628.50" r="1.85" fill="#fff" stroke="#2e2e2e" stroke-width="1.05"/>
<circle cx="409.20" cy="636.70" r="1.85" fill="#fff" stroke="#2e2e2e" stroke-width="1.05"/>
<circle cx="431.50" cy="635.70" r="1.85" fill="#fff" stroke="#2e2e2e" stroke-width="1.05"/>
<circle cx="453.30" cy="636.70" r="1.85" fill="#fff" stroke="#2e2e2e" stroke-width="1.05"/>
<text transform="translate(342.90,665.56) scale(1.07,1)" font-size="8.3" text-anchor="middle" font-weight="bold" fill="#141414" >1</text>
<text transform="translate(365.60,665.56) scale(1.07,1)" font-size="8.3" text-anchor="middle" font-weight="bold" fill="#141414" >2</text>
<text transform="translate(387.50,665.56) scale(1.07,1)" font-size="8.3" text-anchor="middle" font-weight="bold" fill="#141414" >3</text>
<text transform="translate(410.30,665.56) scale(1.07,1)" font-size="8.3" text-anchor="middle" font-weight="bold" fill="#141414" >4</text>
<text transform="translate(432.90,665.56) scale(1.07,1)" font-size="8.3" text-anchor="middle" font-weight="bold" fill="#141414" >5</text>
<text transform="translate(454.10,665.56) scale(1.07,1)" font-size="8.3" text-anchor="middle" font-weight="bold" fill="#141414" >6</text>
<text transform="translate(391.75,675.40) scale(1.094,1)" font-size="8.5" text-anchor="middle" font-weight="bold" fill="#141414" >months</text>
<text transform="translate(303.70,621.60) rotate(-90) scale(1.088,1)" x="0" y="0" font-size="8.8" text-anchor="middle" font-weight="bold" fill="#141414" xml:space="preserve">ALC  (x1000/µL)</text>
<line x1="420.30" y1="624.80" x2="420.30" y2="621.20" stroke="#5a5a5a" stroke-width="0.9" stroke-linecap="round"/><circle cx="420.30" cy="621.20" r="0.95" fill="#262626"/><line x1="420.30" y1="624.80" x2="417.18" y2="623.00" stroke="#5a5a5a" stroke-width="0.9" stroke-linecap="round"/><circle cx="417.18" cy="623.00" r="0.95" fill="#262626"/><line x1="420.30" y1="624.80" x2="417.18" y2="626.60" stroke="#5a5a5a" stroke-width="0.9" stroke-linecap="round"/><circle cx="417.18" cy="626.60" r="0.95" fill="#262626"/><line x1="420.30" y1="624.80" x2="420.30" y2="628.40" stroke="#5a5a5a" stroke-width="0.9" stroke-linecap="round"/><circle cx="420.30" cy="628.40" r="0.95" fill="#262626"/><line x1="420.30" y1="624.80" x2="423.42" y2="626.60" stroke="#5a5a5a" stroke-width="0.9" stroke-linecap="round"/><circle cx="423.42" cy="626.60" r="0.95" fill="#262626"/><line x1="420.30" y1="624.80" x2="423.42" y2="623.00" stroke="#5a5a5a" stroke-width="0.9" stroke-linecap="round"/><circle cx="423.42" cy="623.00" r="0.95" fill="#262626"/>
<text x="427.10" y="624.10" font-size="8.8" text-anchor="middle" font-weight="bold" fill="#141414" >2</text>
<rect x="289.50" y="701.60" width="196.90" height="111.20" fill="none" stroke="#1c1c1c" stroke-width="1.9" stroke-linejoin="round"/>
<line x1="332.70" y1="717.00" x2="332.70" y2="786.20" stroke="#505050" stroke-width="1.3"/>
<line x1="330.50" y1="717.00" x2="332.70" y2="717.00" stroke="#3a3a3a" stroke-width="1"/>
<line x1="330.50" y1="739.90" x2="332.70" y2="739.90" stroke="#3a3a3a" stroke-width="1"/>
<line x1="330.50" y1="763.20" x2="332.70" y2="763.20" stroke="#3a3a3a" stroke-width="1"/>
<line x1="330.50" y1="786.20" x2="332.70" y2="786.20" stroke="#3a3a3a" stroke-width="1"/>
<line x1="332.70" y1="786.20" x2="465.20" y2="786.20" stroke="#8a8a8a" stroke-width="1.2"/>
<line x1="354.78" y1="786.20" x2="354.78" y2="788.00" stroke="#555" stroke-width="1"/>
<line x1="376.87" y1="786.20" x2="376.87" y2="788.00" stroke="#555" stroke-width="1"/>
<line x1="398.95" y1="786.20" x2="398.95" y2="788.00" stroke="#555" stroke-width="1"/>
<line x1="421.03" y1="786.20" x2="421.03" y2="788.00" stroke="#555" stroke-width="1"/>
<line x1="443.12" y1="786.20" x2="443.12" y2="788.00" stroke="#555" stroke-width="1"/>
<line x1="465.20" y1="786.20" x2="465.20" y2="788.00" stroke="#555" stroke-width="1"/>
<text transform="translate(327.70,742.76) scale(1.07,1)" font-size="8.3" text-anchor="end" font-weight="bold" fill="#141414" >100</text>
<text transform="translate(327.70,766.06) scale(1.07,1)" font-size="8.3" text-anchor="end" font-weight="bold" fill="#141414" >10</text>
<text transform="translate(327.70,789.06) scale(1.07,1)" font-size="8.3" text-anchor="end" font-weight="bold" fill="#141414" >1</text>
<polyline points="343.50,757.80 365.40,778.30 387.10,778.40 409.60,785.40 431.50,785.40 453.70,785.40" fill="none" stroke="#1e1e1e" stroke-width="1.35" stroke-linejoin="round"/>
<circle cx="343.50" cy="757.80" r="1.85" fill="#fff" stroke="#2e2e2e" stroke-width="1.05"/>
<circle cx="365.40" cy="778.30" r="1.85" fill="#fff" stroke="#2e2e2e" stroke-width="1.05"/>
<circle cx="387.10" cy="778.40" r="1.85" fill="#fff" stroke="#2e2e2e" stroke-width="1.05"/>
<circle cx="409.60" cy="785.40" r="1.85" fill="#fff" stroke="#2e2e2e" stroke-width="1.05"/>
<circle cx="431.50" cy="785.40" r="1.85" fill="#fff" stroke="#2e2e2e" stroke-width="1.05"/>
<circle cx="453.70" cy="785.40" r="1.85" fill="#fff" stroke="#2e2e2e" stroke-width="1.05"/>
<text transform="translate(342.90,797.26) scale(1.07,1)" font-size="8.3" text-anchor="middle" font-weight="bold" fill="#141414" >1</text>
<text transform="translate(365.00,797.26) scale(1.07,1)" font-size="8.3" text-anchor="middle" font-weight="bold" fill="#141414" >2</text>
<text transform="translate(386.20,797.26) scale(1.07,1)" font-size="8.3" text-anchor="middle" font-weight="bold" fill="#141414" >3</text>
<text transform="translate(408.60,797.26) scale(1.07,1)" font-size="8.3" text-anchor="middle" font-weight="bold" fill="#141414" >4</text>
<text transform="translate(432.50,797.26) scale(1.07,1)" font-size="8.3" text-anchor="middle" font-weight="bold" fill="#141414" >5</text>
<text transform="translate(454.10,797.26) scale(1.07,1)" font-size="8.3" text-anchor="middle" font-weight="bold" fill="#141414" >6</text>
<text transform="translate(394.85,807.70) scale(1.094,1)" font-size="8.5" text-anchor="middle" font-weight="bold" fill="#141414" >months</text>
<text transform="translate(304.80,757.60) rotate(-90) scale(1.088,1)" x="0" y="0" font-size="8.8" text-anchor="middle" font-weight="bold" fill="#141414" xml:space="preserve">ALC  (x1000/µL)</text>
<rect x="290.00" y="834.30" width="197.00" height="110.70" fill="none" stroke="#1c1c1c" stroke-width="1.9" stroke-linejoin="round"/>
<line x1="331.90" y1="848.80" x2="331.90" y2="918.00" stroke="#505050" stroke-width="1.3"/>
<line x1="329.70" y1="848.80" x2="331.90" y2="848.80" stroke="#3a3a3a" stroke-width="1"/>
<line x1="329.70" y1="871.90" x2="331.90" y2="871.90" stroke="#3a3a3a" stroke-width="1"/>
<line x1="329.70" y1="895.00" x2="331.90" y2="895.00" stroke="#3a3a3a" stroke-width="1"/>
<line x1="329.70" y1="918.00" x2="331.90" y2="918.00" stroke="#3a3a3a" stroke-width="1"/>
<line x1="331.90" y1="918.00" x2="466.20" y2="918.00" stroke="#5e5e5e" stroke-width="1.4"/>
<line x1="354.28" y1="918.00" x2="354.28" y2="919.80" stroke="#555" stroke-width="1"/>
<line x1="376.67" y1="918.00" x2="376.67" y2="919.80" stroke="#555" stroke-width="1"/>
<line x1="399.05" y1="918.00" x2="399.05" y2="919.80" stroke="#555" stroke-width="1"/>
<line x1="421.43" y1="918.00" x2="421.43" y2="919.80" stroke="#555" stroke-width="1"/>
<line x1="443.82" y1="918.00" x2="443.82" y2="919.80" stroke="#555" stroke-width="1"/>
<line x1="466.20" y1="918.00" x2="466.20" y2="919.80" stroke="#555" stroke-width="1"/>
<text transform="translate(326.90,874.76) scale(1.07,1)" font-size="8.3" text-anchor="end" font-weight="bold" fill="#141414" >100</text>
<text transform="translate(326.90,897.86) scale(1.07,1)" font-size="8.3" text-anchor="end" font-weight="bold" fill="#141414" >10</text>
<text transform="translate(326.90,920.86) scale(1.07,1)" font-size="8.3" text-anchor="end" font-weight="bold" fill="#141414" >1</text>
<polyline points="343.30,866.70 365.40,877.30 387.50,889.50 409.80,894.60 432.10,898.00 454.30,901.30" fill="none" stroke="#1e1e1e" stroke-width="1.35" stroke-linejoin="round"/>
<circle cx="343.30" cy="866.70" r="1.85" fill="#fff" stroke="#2e2e2e" stroke-width="1.05"/>
<circle cx="365.40" cy="877.30" r="1.85" fill="#fff" stroke="#2e2e2e" stroke-width="1.05"/>
<circle cx="387.50" cy="889.50" r="1.85" fill="#fff" stroke="#2e2e2e" stroke-width="1.05"/>
<circle cx="409.80" cy="894.60" r="1.85" fill="#fff" stroke="#2e2e2e" stroke-width="1.05"/>
<circle cx="432.10" cy="898.00" r="1.85" fill="#fff" stroke="#2e2e2e" stroke-width="1.05"/>
<circle cx="454.30" cy="901.30" r="1.85" fill="#fff" stroke="#2e2e2e" stroke-width="1.05"/>
<text transform="translate(344.40,928.16) scale(1.07,1)" font-size="8.3" text-anchor="middle" font-weight="bold" fill="#141414" >1</text>
<text transform="translate(365.40,928.16) scale(1.07,1)" font-size="8.3" text-anchor="middle" font-weight="bold" fill="#141414" >2</text>
<text transform="translate(388.00,928.16) scale(1.07,1)" font-size="8.3" text-anchor="middle" font-weight="bold" fill="#141414" >3</text>
<text transform="translate(409.60,928.16) scale(1.07,1)" font-size="8.3" text-anchor="middle" font-weight="bold" fill="#141414" >4</text>
<text transform="translate(433.50,928.16) scale(1.07,1)" font-size="8.3" text-anchor="middle" font-weight="bold" fill="#141414" >5</text>
<text transform="translate(455.10,928.16) scale(1.07,1)" font-size="8.3" text-anchor="middle" font-weight="bold" fill="#141414" >6</text>
<text transform="translate(395.50,938.50) scale(1.094,1)" font-size="8.5" text-anchor="middle" font-weight="bold" fill="#141414" >months</text>
<text transform="translate(304.70,888.80) rotate(-90) scale(1.088,1)" x="0" y="0" font-size="8.8" text-anchor="middle" font-weight="bold" fill="#141414" xml:space="preserve">ALC  (x1000/µL)</text>
<line x1="74.50" y1="973.80" x2="74.50" y2="970.40" stroke="#5a5a5a" stroke-width="0.9" stroke-linecap="round"/><circle cx="74.50" cy="970.40" r="0.8" fill="#262626"/><line x1="74.50" y1="973.80" x2="71.56" y2="972.10" stroke="#5a5a5a" stroke-width="0.9" stroke-linecap="round"/><circle cx="71.56" cy="972.10" r="0.8" fill="#262626"/><line x1="74.50" y1="973.80" x2="71.56" y2="975.50" stroke="#5a5a5a" stroke-width="0.9" stroke-linecap="round"/><circle cx="71.56" cy="975.50" r="0.8" fill="#262626"/><line x1="74.50" y1="973.80" x2="74.50" y2="977.20" stroke="#5a5a5a" stroke-width="0.9" stroke-linecap="round"/><circle cx="74.50" cy="977.20" r="0.8" fill="#262626"/><line x1="74.50" y1="973.80" x2="77.44" y2="975.50" stroke="#5a5a5a" stroke-width="0.9" stroke-linecap="round"/><circle cx="77.44" cy="975.50" r="0.8" fill="#262626"/><line x1="74.50" y1="973.80" x2="77.44" y2="972.10" stroke="#5a5a5a" stroke-width="0.9" stroke-linecap="round"/><circle cx="77.44" cy="972.10" r="0.8" fill="#262626"/>
<text x="79.90" y="973.50" font-size="10" text-anchor="middle" font-weight="normal" fill="#262626" class="fn">1</text>
<text class="fn" x="91.4" y="975.8" font-size="10" fill="#262626" textLength="260.9" lengthAdjust="spacingAndGlyphs">Sixth cycle not given due to intercurrent myocardial infarction</text>
<line x1="74.50" y1="990.10" x2="74.50" y2="986.70" stroke="#5a5a5a" stroke-width="0.9" stroke-linecap="round"/><circle cx="74.50" cy="986.70" r="0.8" fill="#262626"/><line x1="74.50" y1="990.10" x2="71.56" y2="988.40" stroke="#5a5a5a" stroke-width="0.9" stroke-linecap="round"/><circle cx="71.56" cy="988.40" r="0.8" fill="#262626"/><line x1="74.50" y1="990.10" x2="71.56" y2="991.80" stroke="#5a5a5a" stroke-width="0.9" stroke-linecap="round"/><circle cx="71.56" cy="991.80" r="0.8" fill="#262626"/><line x1="74.50" y1="990.10" x2="74.50" y2="993.50" stroke="#5a5a5a" stroke-width="0.9" stroke-linecap="round"/><circle cx="74.50" cy="993.50" r="0.8" fill="#262626"/><line x1="74.50" y1="990.10" x2="77.44" y2="991.80" stroke="#5a5a5a" stroke-width="0.9" stroke-linecap="round"/><circle cx="77.44" cy="991.80" r="0.8" fill="#262626"/><line x1="74.50" y1="990.10" x2="77.44" y2="988.40" stroke="#5a5a5a" stroke-width="0.9" stroke-linecap="round"/><circle cx="77.44" cy="988.40" r="0.8" fill="#262626"/>
<text x="80.30" y="989.70" font-size="10" text-anchor="middle" font-weight="normal" fill="#262626" class="fn">2</text>
<text class="fn" x="92.1" y="990.9" font-size="10" fill="#262626" textLength="427.6" lengthAdjust="spacingAndGlyphs">Fludarabine treatment was stopped after four cycles due to mild hemolysis with positive Coombs test</text>
</svg>
</body></html>
